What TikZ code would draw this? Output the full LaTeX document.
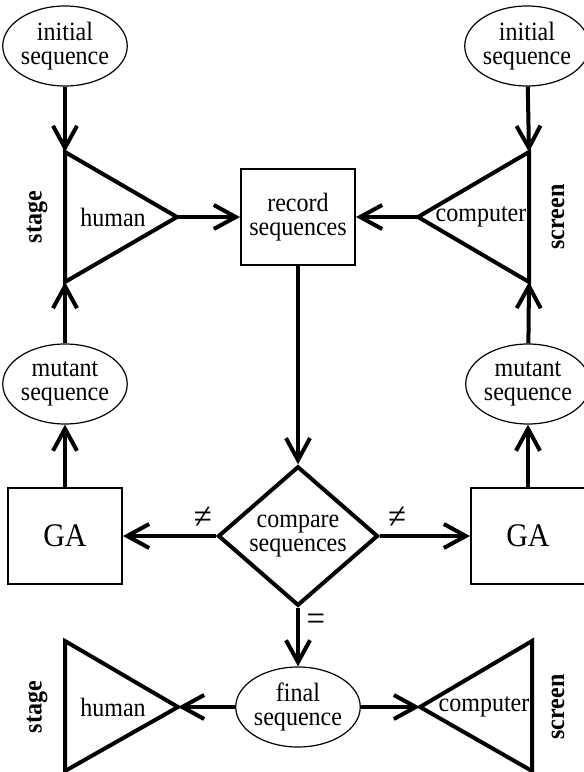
\documentclass[tikz,border=0pt]{standalone}
\usepackage{fontspec}
\setmainfont[FakeStretch=0.91]{Liberation Serif}
\usetikzlibrary{arrows.meta,shapes}
\tikzstyle{seq} = [ellipse, draw, line width=0.6pt, minimum width=57pt,
    minimum height=40pt, inner sep=0pt, align=center, font=\fontsize{13.2}{12}\selectfont]
\tikzstyle{bx} = [rectangle, draw, line width=1pt, minimum width=57pt,
    minimum height=48pt, align=center, font=\fontsize{13.2}{12}\selectfont]
\tikzstyle{ga} = [bx, font=\fontsize{16.5}{18}\selectfont]
\tikzstyle{cmpbox} = [diamond, draw, line width=2pt, minimum width=80pt,
    minimum height=68pt, inner sep=0pt, align=center, font=\fontsize{13.2}{12}\selectfont]
\tikzstyle{tri} = [-, line width=2pt]
\tikzstyle{lbl} = [font=\fontsize{13.2}{12}\selectfont]
\tikzstyle{sgn} = [font=\fontsize{18}{18}\selectfont]
\tikzstyle{side} = [rotate=90, font=\bfseries\fontsize{13.2}{12}\selectfont]

\begin{document}
\begin{tikzpicture}[->,>={Straight Barb[length=11pt,width=12pt]},line width=2pt,
                    x=0.5pt,y=-0.5pt]
  \useasboundingbox (0,0) rectangle (584,772);

  % sequences and boxes
  \node[seq] (iniL) at (65,46)  {initial\\sequence};
  \node[seq] (iniR) at (527,46) {initial\\sequence};
  \node[seq] (mutL) at (65,384) {mutant\\sequence};
  \node[seq] (mutR) at (528,384) {mutant\\sequence};
  \node[bx]  (rec)  at (298,217) {record\\sequences};
  \node[cmpbox] (cmp) at (298,536) {compare\\sequences};
  \node[ga]  (gaL)  at (65,536)  {GA};
  \node[ga]  (gaR)  at (528,536) {GA};
  \node[seq] (fin)  at (298,707) {final\\sequence};

  % players
  \draw[tri] (65,152) coordinate (hTop) -- (177,217) coordinate (hTip)
             -- (65,282) coordinate (hBot) -- cycle;
  \draw[tri] (529,152) coordinate (cTop) -- (418,217) coordinate (cTip)
             -- (529,282) coordinate (cBot) -- cycle;
  \draw[tri] (65,641) -- (178,707) coordinate (hTip2) -- (65,771) -- cycle;
  \draw[tri] (532,641) -- (420,707) coordinate (cTip2) -- (532,771) -- cycle;
  \node[lbl] (hum)  at (113,217) {human};
  \node[lbl] (comp) at (481,217) {computer};
  \node[lbl] (hum2) at (113,707) {human};
  \node[lbl] (comp2) at (484,707) {computer};
  \node[side] (stg)  at (37,217)  {stage};
  \node[side] (scr)  at (558,217) {screen};
  \node[side] (stg2) at (37,707)  {stage};
  \node[side] (scr2) at (558,707) {screen};

  \path (iniL) edge (hTop)
  (iniR) edge (cTop)
  (mutL) edge (hBot)
  (mutR) edge (cBot)
  (gaL) edge (mutL)
  (gaR) edge (mutR)
  (hTip) edge (rec)
  (cTip) edge (rec)
  (rec) edge (cmp)
  (cmp) edge node[sgn,pos=0.14,yshift=9pt] {≠} (gaL)
  (cmp) edge node[sgn,pos=0.19,yshift=9pt] {≠} (gaR)
  (cmp) edge node[sgn,right,pos=0.24] {=} (fin)
  (fin) edge (hTip2)
  (fin) edge (cTip2);
\end{tikzpicture}
\end{document}
